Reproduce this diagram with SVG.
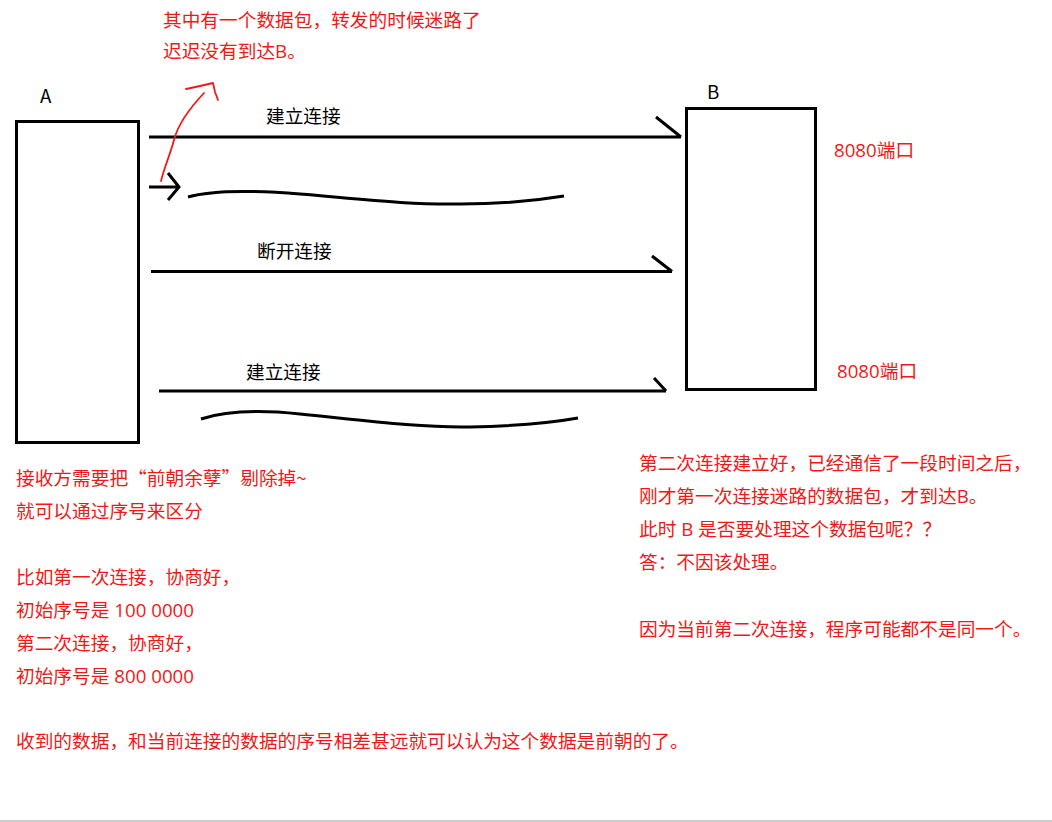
<svg xmlns="http://www.w3.org/2000/svg" width="1052" height="822" viewBox="0 0 1052 822">
<style>
.box{fill:#fff;stroke:#000;stroke-width:3}
.ln{fill:none;stroke:#000;stroke-width:3;stroke-linecap:butt}
.rl{fill:none;stroke:#f01818;stroke-width:1.8;stroke-linecap:round;stroke-linejoin:round}
text{font-family:"Noto Sans CJK SC","Microsoft YaHei",sans-serif;font-size:18.7px}
.lat{font-family:"Open Sans","Noto Sans CJK SC",sans-serif}
.k{fill:#000}
.r{fill:#f01818}
</style>
<rect x="0" y="0" width="1052" height="822" fill="#fff"/>
<g id="nodeA">
<rect class="box" x="16.5" y="121.5" width="122" height="321"/>
<text class="k" x="40" y="103" font-size="18">A</text>
</g>
<g id="nodeB">
<rect class="box" x="686.5" y="108.5" width="129" height="281"/>
<text class="k" x="707" y="99" font-size="18">B</text>
<text class="r lat" x="834" y="157">8080端口</text>
<text class="r lat" x="837" y="378">8080端口</text>
</g>
<g id="connectors">
<path class="ln" d="M149,137 H681 M656,117 L681,137"/>
<path class="ln" d="M149,187 H178 M168,173 L179,187 L168,200"/>
<path class="ln" d="M188,197 C212,190 250,190 300,194 C360,199 410,205 460,204 C510,204 540,200 564,196"/>
<path class="ln" d="M151,271.5 H672 M652,256 L672,271.5"/>
<path class="ln" d="M159,391 H666 M654,378 L666,391"/>
<path class="ln" d="M201,419 C228,410 262,410 300,414 C360,420 420,428 470,427 C520,426 550,423 578,418"/>
<path class="rl" d="M161,181 C164,168 170,155 174,140 C178,124 188,110 204,93"/>
<path class="rl" d="M186,89 L200,86 L213,83 L215,92 L218,100"/>
</g>
<g id="labels">
<text class="k" x="266" y="123">建立连接</text>
<text class="k" x="257" y="258">断开连接</text>
<text class="k" x="246" y="379">建立连接</text>
</g>
<g id="notes">
<text class="r" x="163" y="27">其中有一个数据包，转发的时候迷路了</text>
<text class="r lat" x="163" y="58">迟迟没有到达B。</text>
<text class="r" x="16" y="485">接收方需要把“前朝余孽”剔除掉~</text>
<text class="r" x="16" y="518">就可以通过序号来区分</text>
<text class="r" x="16" y="584">比如第一次连接，协商好，</text>
<text class="r lat" x="16" y="617">初始序号是 100 0000</text>
<text class="r" x="16" y="650">第二次连接，协商好，</text>
<text class="r lat" x="16" y="683">初始序号是 800 0000</text>
<text class="r" x="639" y="470">第二次连接建立好，已经通信了一段时间之后，</text>
<text class="r lat" x="639" y="503">刚才第一次连接迷路的数据包，才到达B。</text>
<text class="r lat" x="639" y="536">此时 B 是否要处理这个数据包呢？？</text>
<text class="r" x="639" y="569">答：不因该处理。</text>
<text class="r" x="639" y="636">因为当前第二次连接，程序可能都不是同一个。</text>
<text class="r" x="16" y="748">收到的数据，和当前连接的数据的序号相差甚远就可以认为这个数据是前朝的了。</text>
</g>
<rect x="0" y="820" width="1052" height="2" fill="#cccccc"/>
</svg>
